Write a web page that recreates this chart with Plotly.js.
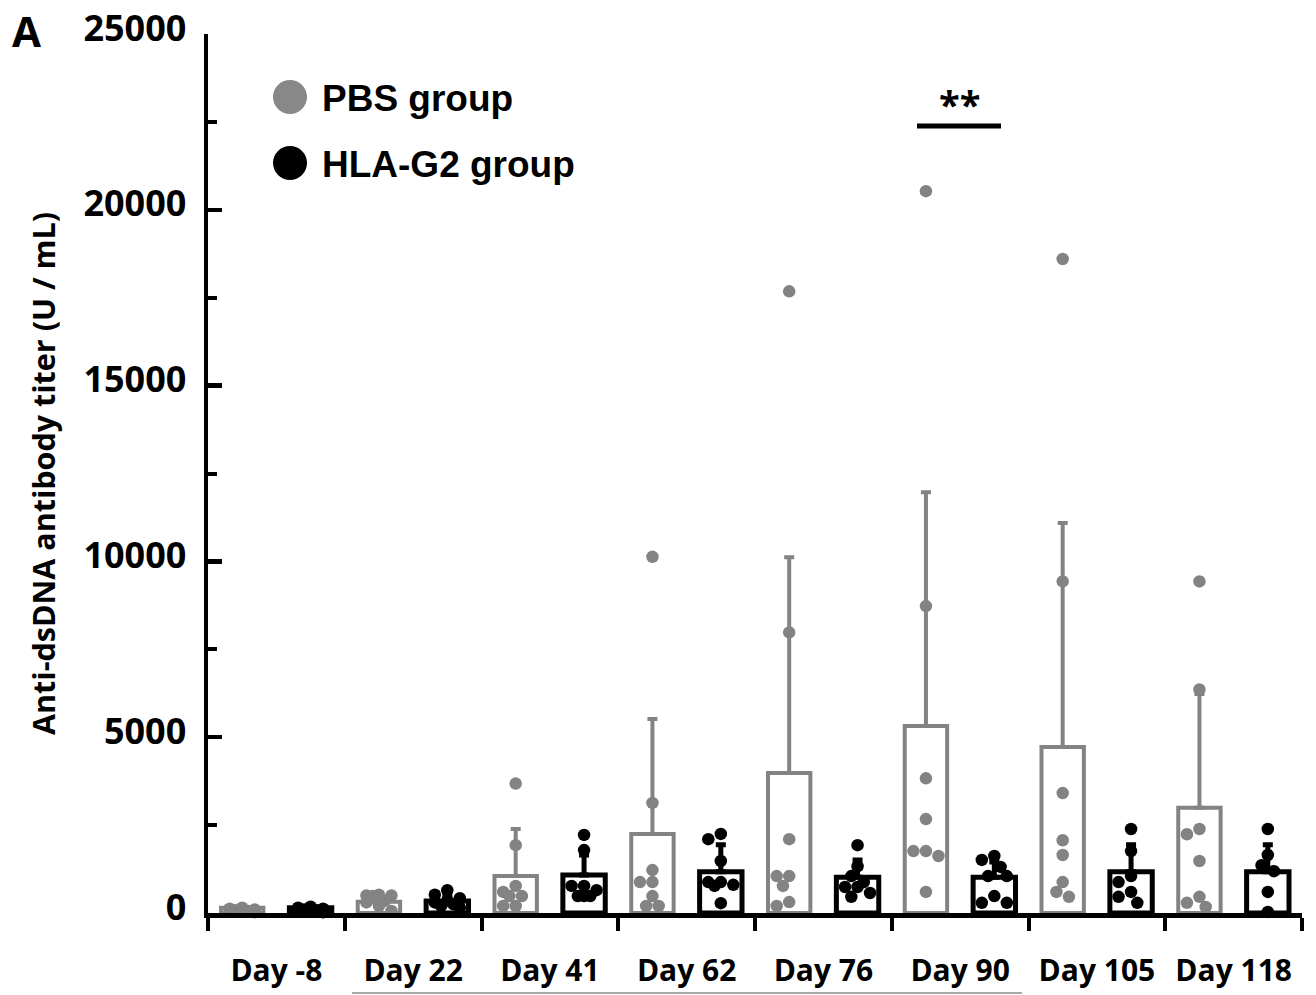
<!DOCTYPE html>
<html>
<head>
<meta charset="utf-8">
<script src="https://cdn.plot.ly/plotly-3.0.1.min.js"></script>
<style>html,body{margin:0;padding:0;background:#fff;}#chart{width:1316px;height:995px;}</style>
</head>
<body>
<div id="chart"></div>
<script>
const categories = ['Day -8','Day 22','Day 41','Day 62','Day 76','Day 90','Day 105','Day 118'];
const seriesNames = ['PBS group','HLA-G2 group'];

const pbsMean = [150, 320, 1050, 2250, 3980, 5320, 4720, 2990];
const pbsSD   = [30, 80, 1340, 3270, 6140, 6650, 6370, 3240];
const hlaMean = [150, 340, 1080, 1170, 1020, 1020, 1170, 1170];
const hlaSD   = [30, 150, 570, 770, 490, 430, 770, 770];

const pbsPoints = [
  [150, 120, 100, 80, 60, 50, 30, 20],
  [520, 500, 500, 480, 350, 300, 200, 60],
  [3680, 1930, 770, 600, 480, 480, 200, 200],
  [10130, 3130, 1220, 880, 880, 480, 200, 200],
  [17680, 7980, 2100, 1050, 1050, 770, 310, 200],
  [20530, 8730, 3830, 2670, 1760, 1760, 1620, 600],
  [18600, 9430, 3410, 2070, 1650, 880, 600, 460],
  [9430, 6360, 2390, 2240, 1480, 460, 290, 170]
];
const hlaPoints = [
  [180, 150, 120, 100, 80, 60, 40, 20],
  [650, 520, 420, 350, 300, 250, 200, 150],
  [2220, 1790, 770, 770, 650, 480, 480, 480],
  [2250, 2100, 1480, 880, 880, 800, 770, 280],
  [1930, 1330, 1050, 880, 740, 740, 570, 460],
  [1620, 1510, 1310, 1050, 1050, 480, 290, 290],
  [2390, 1760, 1050, 880, 600, 460, 290],
  [2390, 1650, 1360, 1190, 600, 30]
];

const GRAY = '#838383';
const W = 1316, H = 995;
const M = {l: 208, r: 14, t: 34, b: 82};
const PW = W - M.l - M.r, PH = H - M.t - M.b;
const YMAX = 25000;
const idx = categories.map((c, i) => i);

// simple beeswarm: spread overlapping dots horizontally (pixel based)
function swarm(vals, center) {
  const pxX = PW / categories.length, pxY = PH / YMAX, d = 12.5, lim = 17;
  const order = vals.map((v, i) => i).sort((a, b) => vals[b] - vals[a]);
  const placed = [];
  const xs = new Array(vals.length);
  order.forEach(i => {
    const yp = vals[i] * pxY;
    let chosen = null, bestOff = 0, bestScore = -1;
    for (let k = 0; k < 12; k++) {
      const off = (k % 2 ? -1 : 1) * Math.ceil(k / 2) * d * 0.5;
      if (Math.abs(off) > lim) continue;
      let minD = Infinity;
      placed.forEach(p => { minD = Math.min(minD, Math.hypot(off - p.off, yp - p.yp)); });
      if (minD >= d * 0.92) { chosen = off; break; }
      if (minD > bestScore) { bestScore = minD; bestOff = off; }
    }
    if (chosen === null) chosen = bestOff;
    placed.push({off: chosen, yp: yp});
    xs[i] = center + chosen / pxX;
  });
  return xs;
}

function dotTrace(pointsArr, shift, color) {
  const x = [], y = [];
  pointsArr.forEach((vals, i) => {
    const xs = swarm(vals, i + shift);
    vals.forEach((v, j) => { x.push(xs[j]); y.push(v); });
  });
  return {type: 'scatter', mode: 'markers', x: x, y: y, showlegend: false, cliponaxis: false,
    marker: {size: 12.5, color: color, line: {width: 0}}, hoverinfo: 'y'};
}

const traces = [
  {type: 'bar', name: seriesNames[0], x: idx, y: pbsMean, showlegend: false,
   marker: {color: 'rgba(255,255,255,1)', line: {color: GRAY, width: 4}},
   error_y: {type: 'data', array: pbsSD, arrayminus: pbsSD.map(() => 0), symmetric: false,
             color: GRAY, thickness: 4, width: 5}},
  {type: 'bar', name: seriesNames[1], x: idx, y: hlaMean, showlegend: false,
   marker: {color: 'rgba(255,255,255,1)', line: {color: '#000', width: 5}},
   error_y: {type: 'data', array: hlaSD, arrayminus: hlaSD.map(() => 0), symmetric: false,
             color: '#000', thickness: 5, width: 5}},
  dotTrace(pbsPoints, -0.25, GRAY),
  dotTrace(hlaPoints, 0.25, '#000')
];

const px = x => (x - M.l) / PW;
const py = y => (H - M.b - y) / PH;

const layout = {
  width: W, height: H,
  margin: M,
  paper_bgcolor: '#fff', plot_bgcolor: '#fff',
  barmode: 'group', bargap: 0, bargroupgap: 0.38,
  showlegend: false,
  xaxis: {
    range: [-0.5, 7.5], tickmode: 'array', tickvals: idx, ticktext: categories,
    showline: true, linecolor: '#000', linewidth: 4.5, showgrid: false, zeroline: false,
    ticks: '', ticklabelstandoff: 27,
    tickfont: {family: 'Open Sans', size: 30, color: '#000', weight: 'bold'},
    minor: {tickmode: 'array', tickvals: [-0.5, 0.5, 1.5, 2.5, 3.5, 4.5, 5.5, 6.5, 7.5],
            ticks: 'outside', ticklen: 13, tickwidth: 4, tickcolor: '#000', showgrid: false}
  },
  yaxis: {
    range: [0, YMAX], tickmode: 'linear', tick0: 0, dtick: 5000, tickformat: 'd',
    showline: true, linecolor: '#000', linewidth: 4.5, showgrid: false, zeroline: false,
    ticks: 'inside', ticklen: 14, tickwidth: 4.5, tickcolor: '#000',
    ticklabelstandoff: 10, ticklabelshift: -6,
    tickfont: {family: 'Open Sans', size: 36, color: '#000', weight: 'bold'},
    minor: {dtick: 2500, ticks: 'inside', ticklen: 9, tickwidth: 4, tickcolor: '#000', showgrid: false},
    title: {text: 'Anti-dsDNA antibody titer (U / mL)', standoff: 20,
            font: {family: 'Open Sans', size: 30.5, color: '#000', weight: 'bold'}}
  },
  shapes: [
    {type: 'circle', xref: 'paper', yref: 'paper', x0: px(273), x1: px(307), y0: py(114), y1: py(80),
     fillcolor: '#888', line: {width: 0}},
    {type: 'circle', xref: 'paper', yref: 'paper', x0: px(273), x1: px(307), y0: py(180), y1: py(146),
     fillcolor: '#000', line: {width: 0}},
    {type: 'line', xref: 'paper', yref: 'paper', x0: px(917), x1: px(1001), y0: py(126), y1: py(126),
     line: {color: '#000', width: 5}},
    {type: 'line', xref: 'paper', yref: 'paper', x0: px(352), x1: px(1022), y0: py(993), y1: py(993),
     line: {color: '#8c8c8c', width: 1.5}}
  ],
  annotations: [
    {xref: 'paper', yref: 'paper', x: px(320), y: py(98), xanchor: 'left', yanchor: 'middle', showarrow: false,
     text: 'PBS group', font: {family: 'Liberation Sans', size: 37, color: '#000', weight: 'bold'}},
    {xref: 'paper', yref: 'paper', x: px(320), y: py(164), xanchor: 'left', yanchor: 'middle', showarrow: false,
     text: 'HLA-G2 group', font: {family: 'Liberation Sans', size: 37, color: '#000', weight: 'bold'}},
    {xref: 'paper', yref: 'paper', x: px(26), y: py(31), xanchor: 'center', yanchor: 'middle', showarrow: false,
     text: 'A', font: {family: 'Open Sans', size: 42, color: '#000', weight: 'bold'}},
    {xref: 'paper', yref: 'paper', x: px(959), y: py(104), xanchor: 'center', yanchor: 'middle', showarrow: false,
     text: '**', font: {family: 'Open Sans', size: 38, color: '#000', weight: 'bold'}}
  ]
};

Plotly.newPlot('chart', traces, layout, {displayModeBar: false, staticPlot: true});
</script>
</body>
</html>
